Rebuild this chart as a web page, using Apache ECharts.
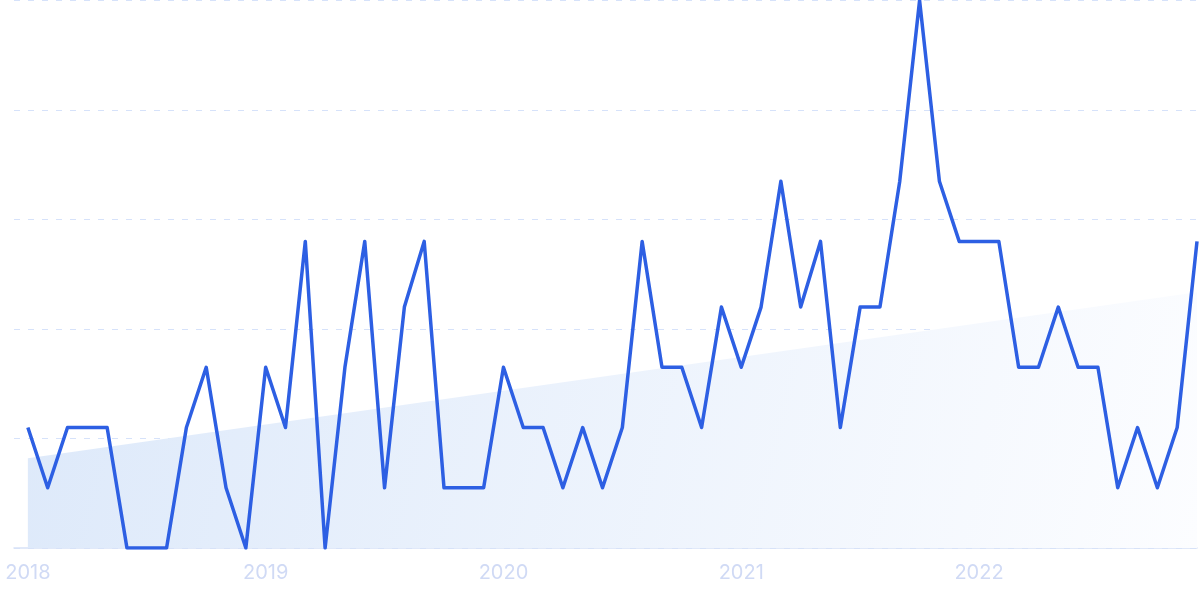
<!DOCTYPE html>
<html>
<head>
<meta charset="utf-8">
<script src="https://cdn.jsdelivr.net/npm/echarts@6/dist/echarts.min.js"></script>
<style>
html,body{margin:0;padding:0;background:#fff;}
#chart{width:1200px;height:599px;}
</style>
</head>
<body>
<div id="chart"></div>
<script>
// Monthly index Jan 2018 .. Dec 2022 (0..59)
const months = Array.from({length: 60}, (_, i) => i);
const values = [
  22, 11, 22, 22, 22, 0, 0, 0, 22, 33, 11, 0,
  33, 22, 56, 0, 33, 56, 11, 44, 56, 11, 11, 11,
  33, 22, 22, 11, 22, 11, 22, 56, 33, 33, 22, 44,
  33, 44, 67, 44, 56, 22, 44, 44, 67, 100, 67, 56,
  56, 56, 33, 33, 44, 33, 33, 11, 22, 11, 22, 56
];
const trendStart = 16.4;
const trendEnd = 46.7;
const yearTicks = [0, 12, 24, 36, 48];
const yearLabels = ['2018', '2019', '2020', '2021', '2022'];

const chart = echarts.init(document.getElementById('chart'));
chart.setOption({
  animation: false,
  grid: { left: 14, right: 3, top: 0.5, bottom: 51, containLabel: false },
  xAxis: {
    type: 'value',
    min: -0.7,
    max: 59,
    axisLine: { show: true, lineStyle: { color: '#d8e2f8', width: 1.5 } },
    axisTick: { show: false },
    splitLine: { show: false },
    axisLabel: {
      customValues: yearTicks,
      formatter: v => yearLabels[yearTicks.indexOf(Math.round(v))] || '',
      color: '#d0daf5',
      fontFamily: 'Inter',
      fontSize: 20,
      margin: 15
    }
  },
  yAxis: {
    type: 'value',
    min: 0,
    max: 100,
    interval: 20,
    axisLine: { show: false },
    axisTick: { show: false },
    axisLabel: { show: false },
    splitLine: { show: true, lineStyle: { color: '#d6e2fa', type: [6, 8], width: 1 } }
  },
  series: [
    {
      type: 'line',
      data: [[months[0], trendStart], [months[months.length - 1], trendEnd]],
      symbol: 'none',
      lineStyle: { opacity: 0 },
      areaStyle: {
        opacity: 1,
        color: new echarts.graphic.LinearGradient(0, 0, 1, 1, [
          { offset: 0, color: '#dde9fa' },
          { offset: 1, color: '#fcfdff' }
        ])
      },
      silent: true,
      z: 1
    },
    {
      type: 'line',
      data: months.map((m, i) => [m, values[i]]),
      symbol: 'none',
      lineStyle: { color: '#2d5fe3', width: 3.5, join: 'round' },
      z: 2
    }
  ]
});
</script>
</body>
</html>
